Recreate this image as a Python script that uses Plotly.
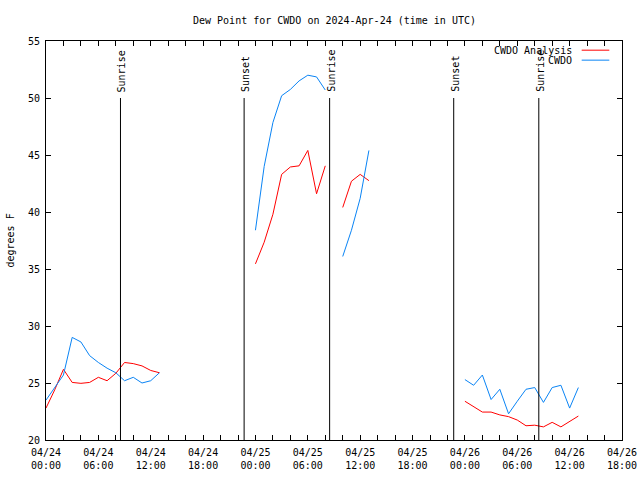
import pandas as pd
import plotly.graph_objects as go

# ---- data (hours after 2024-04-24 00:00 UTC) ----
start = pd.Timestamp("2024-04-24 00:00")

analysis_hours = list(range(0, 14)) + list(range(24, 33)) + list(range(34, 38)) + list(range(48, 62))
analysis_vals = [22.8, 24.4, 26.2, 25.05, 24.97, 25.05, 25.5, 25.2, 25.85, 26.8, 26.7, 26.5, 26.1, 25.9,
                 35.45, 37.35, 39.8, 43.3, 43.95, 44.05, 45.4, 41.6, 44.05,
                 40.4, 42.7, 43.3, 42.75,
                 23.4, 22.9, 22.45, 22.45, 22.2, 22.05, 21.75, 21.25, 21.3, 21.15, 21.55, 21.15, 21.65, 22.1]

obs_hours = list(range(0, 14)) + list(range(24, 33)) + list(range(34, 38)) + list(range(48, 62))
obs_vals = [23.5, 24.6, 25.7, 29.0, 28.6, 27.4, 26.8, 26.3, 25.9, 25.2, 25.5, 25.0, 25.2, 25.9,
            38.4, 44.0, 47.85, 50.2, 50.75, 51.5, 52.0, 51.85, 50.7,
            36.1, 38.4, 41.2, 45.4,
            25.3, 24.8, 25.7, 23.55, 24.45, 22.3, 23.4, 24.45, 24.6, 23.3, 24.6, 24.8, 22.8, 24.6]

sun_events = ["2024-04-24 08:32", "2024-04-24 22:42", "2024-04-25 08:30", "2024-04-25 22:43", "2024-04-26 08:28"]
sun_labels = ["Sunrise", "Sunset", "Sunrise", "Sunset", "Sunrise"]

y_ticks = [20, 25, 30, 35, 40, 45, 50, 55]
x_start, x_end = "2024-04-24 00:00", "2024-04-26 18:00"
series_names = ["CWDO Analysis", "CWDO"]
series_colors = ["#ff0000", "#0a84f5"]
title_text = "Dew Point for CWDO on 2024-Apr-24 (time in UTC)"
y_label = "degrees F"

FONT = "DejaVu Sans Mono"


def with_gaps(hours, vals):
    xs, ys = [], []
    prev = None
    for h, v in zip(hours, vals):
        if prev is not None and h - prev > 1:
            xs.append(start + pd.Timedelta(hours=(h + prev) / 2))
            ys.append(None)
        xs.append(start + pd.Timedelta(hours=h))
        ys.append(v)
        prev = h
    return xs, ys


fig = go.Figure()
for hrs, vals, name, col in [(analysis_hours, analysis_vals, series_names[0], series_colors[0]),
                              (obs_hours, obs_vals, series_names[1], series_colors[1])]:
    xs, ys = with_gaps(hrs, vals)
    fig.add_trace(go.Scatter(x=xs, y=ys, mode="lines", name=name,
                             line=dict(color=col, width=1), connectgaps=False,
                             showlegend=False))

# tick positions every 2 hours, labels every 6 hours
tick_times = pd.date_range(x_start, x_end, freq="2h")
tick_text = [t.strftime("%m/%d<br>%H:%M") if t.hour % 6 == 0 else "" for t in tick_times]

shapes = []
annotations = []
for t, lab in zip(sun_events, sun_labels):
    shapes.append(dict(type="line", xref="x", yref="y", x0=t, x1=t, y0=20, y1=50,
                       line=dict(color="black", width=1)))
    annotations.append(dict(x=t, y=50, xref="x", yref="y", text=lab, textangle=-90,
                            showarrow=False, xanchor="center", yanchor="bottom", yshift=4, xshift=1,
                            font=dict(family=FONT, size=10, color="black")))

# manual legend (gnuplot style: text then sample)
leg_y = [0.977, 0.952]
for i, (name, col) in enumerate(zip(series_names, series_colors)):
    annotations.append(dict(x=0.917, y=leg_y[i], xref="paper", yref="paper", text=name,
                            showarrow=False, xanchor="right", yanchor="middle",
                            font=dict(family=FONT, size=10, color="black")))
    shapes.append(dict(type="line", xref="paper", yref="paper", x0=0.93, x1=0.978,
                       y0=leg_y[i], y1=leg_y[i], line=dict(color=col, width=1)))

# title and y label
annotations.append(dict(x=0.5, y=1.0526, xref="paper", yref="paper", text=title_text,
                        showarrow=False, xanchor="center", yanchor="middle",
                        font=dict(family=FONT, size=10, color="black")))
annotations.append(dict(x=-0.0625, y=0.5, xref="paper", yref="paper", text=y_label,
                        textangle=-90, showarrow=False, xanchor="center", yanchor="middle",
                        font=dict(family=FONT, size=10, color="black")))

fig.update_layout(
    width=640, height=480,
    margin=dict(l=46, r=18, t=41, b=40, autoexpand=False),
    paper_bgcolor="white", plot_bgcolor="white",
    font=dict(family=FONT, size=10, color="black"),
    shapes=shapes, annotations=annotations,
    xaxis=dict(range=[x_start, x_end], tickvals=list(tick_times), ticktext=tick_text,
               ticks="inside", ticklen=5, tickcolor="black", showgrid=False, zeroline=False,
               showline=True, linecolor="black", linewidth=1, mirror="ticks", automargin=False,
               tickfont=dict(family=FONT, size=10), tickangle=0, ticklabelstandoff=3),
    yaxis=dict(range=[20, 55], tickvals=y_ticks, ticks="inside", ticklen=5, tickcolor="black",
               showgrid=False, zeroline=False, showline=True, linecolor="black", linewidth=1,
               mirror="ticks", automargin=False, tickfont=dict(family=FONT, size=10),
               ticklabelstandoff=3),
)

# remove the default 8px page margin so the 640x480 figure fills the window
fig.write_html("out.html", config={"displayModeBar": False},
               post_script="document.body.style.margin='0px';")
